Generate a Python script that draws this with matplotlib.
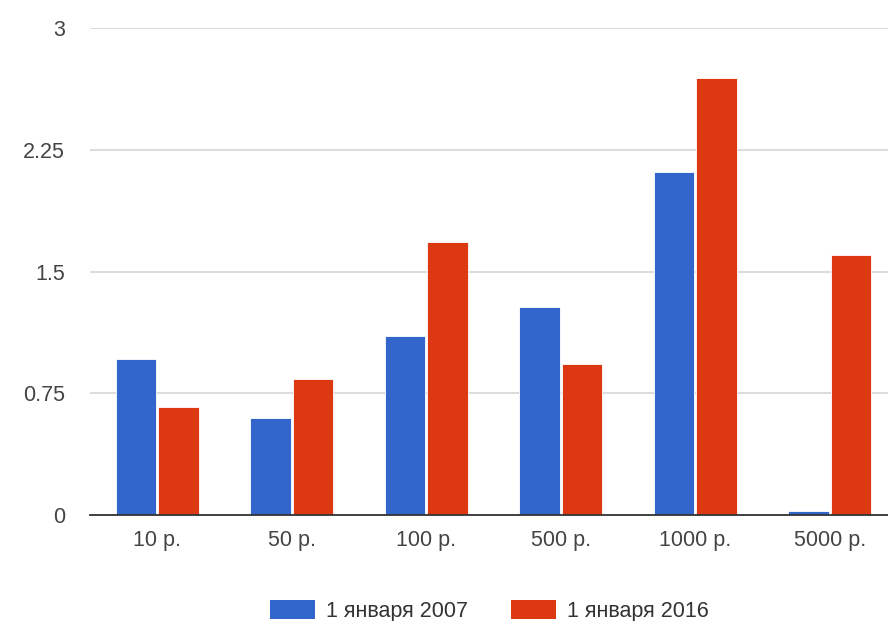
import numpy as np
import matplotlib.pyplot as plt
from matplotlib.patches import Patch

plt.rcParams['font.family'] = ['Liberation Sans', 'DejaVu Sans']

categories = ["10 р.", "50 р.", "100 р.", "500 р.", "1000 р.", "5000 р."]
series_names = ["1 января 2007", "1 января 2016"]
values_2007 = [0.96, 0.60, 1.10, 1.28, 2.11, 0.025]
values_2016 = [0.665, 0.84, 1.68, 0.93, 2.69, 1.60]
y_ticks = [0, 0.75, 1.5, 2.25, 3]
y_tick_labels = ["0", "0.75", "1.5", "2.25", "3"]

blue = "#3366cc"
red = "#dc3912"

fig = plt.figure(figsize=(8.88, 6.21), dpi=100)
# plot area runs slightly past the right edge of the figure
ax = fig.add_axes([90 / 888, (621 - 515) / 621, 807 / 888, 487 / 621])

x = np.arange(len(categories))
w = 0.30
ax.bar(x - w / 2 - 0.008, values_2007, w, color=blue, edgecolor="white", linewidth=0.6, zorder=3)
ax.bar(x + w / 2 + 0.008, values_2016, w, color=red, edgecolor="white", linewidth=0.6, zorder=3)

ax.set_xlim(-0.5, len(categories) - 0.5)
ax.set_ylim(0, 3)
ax.set_yticks(y_ticks)
ax.set_yticklabels(y_tick_labels)
ax.set_xticks(x)
ax.set_xticklabels(categories)
ax.tick_params(axis="both", length=0, labelsize=15.5, colors="#444444")
ax.tick_params(axis="y", pad=18)
ax.tick_params(axis="x", pad=11)

ax.yaxis.grid(True, color="#d9d9d9", linewidth=1.3, zorder=0)
for side in ["top", "right", "left"]:
    ax.spines[side].set_visible(False)
ax.spines["bottom"].set_color("#333333")
ax.spines["bottom"].set_linewidth(1.3)
ax.spines["bottom"].set_zorder(4)

handles = [Patch(facecolor=blue, label=series_names[0]),
           Patch(facecolor=red, label=series_names[1])]
fig.legend(handles=handles, loc="center", bbox_to_anchor=(489 / 888, 1 - 611 / 621),
           ncol=2, frameon=False, fontsize=15.5, handlelength=2.1, handleheight=1.0,
           handletextpad=0.5, columnspacing=2.0, labelcolor="#333333",
           borderpad=0, borderaxespad=0)

fig.savefig("out.png", dpi=100, facecolor="white")
